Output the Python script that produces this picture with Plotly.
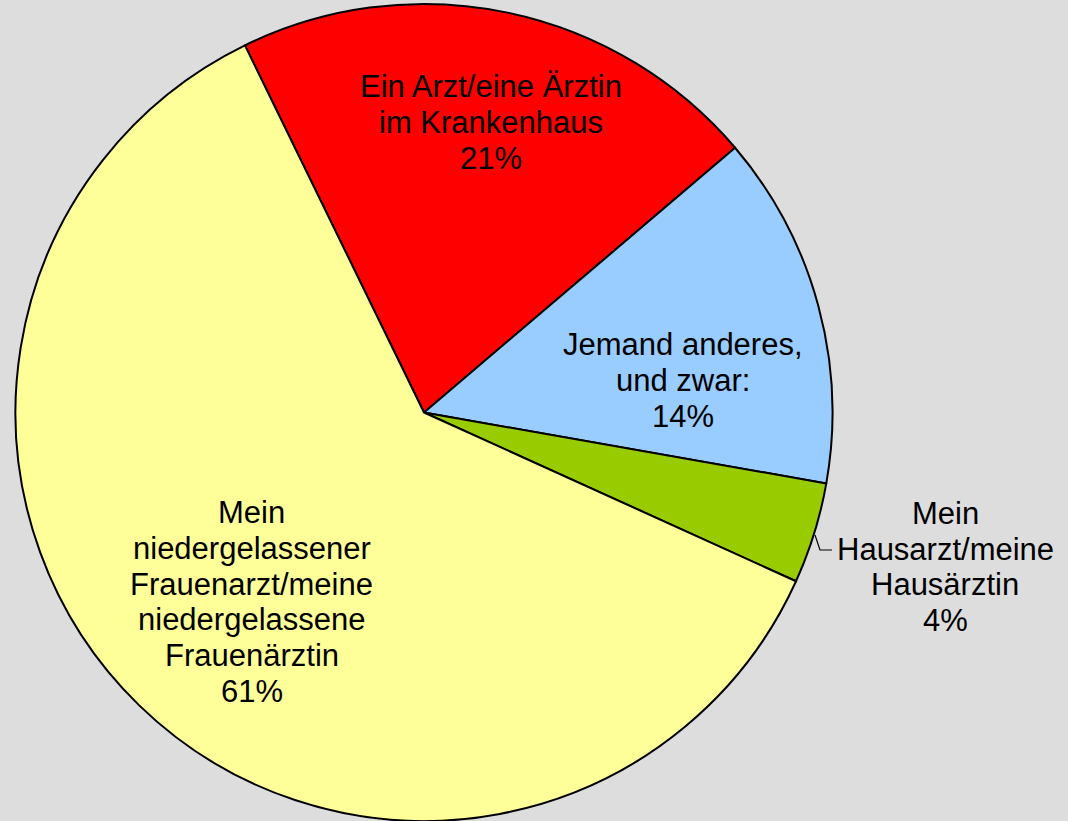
import math
import plotly.graph_objects as go

# ---- data ----
labels = [
    "Ein Arzt/eine Ärztin<br>im Krankenhaus",
    "Jemand anderes,<br>und zwar:",
    "Mein<br>Hausarzt/meine<br>Hausärztin",
    "Mein<br>niedergelassener<br>Frauenarzt/meine<br>niedergelassene<br>Frauenärztin",
]
values = [21, 14, 4, 61]
colors = ["#FF0000", "#99CCFF", "#99CC00", "#FFFF99"]

# ---- layout geometry (pixels) ----
W, H = 1068, 821
MT = 4
PH = H - MT
CX, CY, R = 424.0, MT + PH / 2.0, PH / 2.0
ROTATION = -26.0
FONT_SIZE = 31
LINE_STEP = 35.8
# label placement: radius factor and angular offset (deg) per slice
label_rf = [0.729, 0.639, 1.331, 0.627]
label_da = [1.2, 8.2, -0.7, -1.9]

fig = go.Figure()
fig.add_trace(go.Pie(
    labels=[l.replace("<br>", " ") for l in labels],
    values=values,
    sort=False,
    direction="clockwise",
    rotation=ROTATION,
    marker=dict(colors=colors, line=dict(color="black", width=2)),
    textinfo="none",
    hoverinfo="label+percent",
    showlegend=False,
    domain=dict(x=[(CX - R) / W, (CX + R) / W], y=[0, 1]),
))

total = sum(values)
cum = 0.0
annotations = []
for lab, v, rf, da in zip(labels, values, label_rf, label_da):
    mid = ROTATION + 360.0 * (cum + v / 2.0) / total + da
    cum += v
    px = CX + rf * R * math.sin(math.radians(mid))
    py = CY - rf * R * math.cos(math.radians(mid))
    pct = round(100.0 * v / total)
    lines = lab.split("<br>") + [f"{pct}%"]
    n = len(lines)
    for i, line in enumerate(lines):
        annotations.append(dict(
            x=px / W, y=(H - py) / PH, xref="paper", yref="paper",
            text=line, showarrow=False,
            xanchor="center", yanchor="middle", align="center",
            yshift=-(i - (n - 1) / 2.0) * LINE_STEP,
            font=dict(family="Liberation Sans, Arial, sans-serif", size=FONT_SIZE, color="black"),
        ))

# small leader line for the "Hausarzt" label
def pp(x, y):
    return x / W, (H - y) / PH

x0, y0 = pp(815, 535)
x1, y1 = pp(820, 550)
x2, y2 = pp(832, 550)
shapes = [dict(type="path", xref="paper", yref="paper",
               path=f"M {x0} {y0} L {x1} {y1} L {x2} {y2}",
               line=dict(color="black", width=1.2))]

fig.update_layout(
    width=W, height=H,
    margin=dict(l=0, r=0, t=MT, b=0, pad=0),
    paper_bgcolor="#DDDDDD",
    plot_bgcolor="#DDDDDD",
    annotations=annotations,
    shapes=shapes,
)

fig.write_html("out.html", config={"displayModeBar": False},
               post_script="document.body.style.margin='0px';")
